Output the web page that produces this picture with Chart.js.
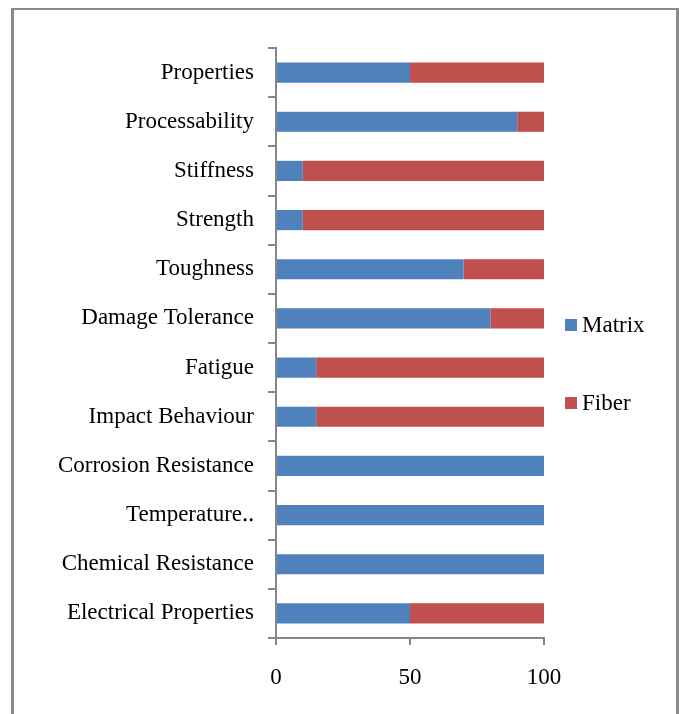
<!DOCTYPE html>
<html>
<head>
<meta charset="utf-8">
<script src="https://cdn.jsdelivr.net/npm/chart.js@4/dist/chart.umd.min.js"></script>
<style>
  html, body { margin: 0; padding: 0; background: #fff; }
  #wrap { position: relative; width: 679px; height: 714px; overflow: hidden; }
  #frame { position: absolute; left: 11px; top: 8px; width: 668px; height: 730px;
           border-style: solid; border-color: #8a8a8a; border-width: 2px 3px 3px 3px;
           box-sizing: border-box; }
  canvas { position: absolute; left: 0; top: 0; }
</style>
</head>
<body>
<div id="wrap">
  <div id="frame"></div>
  <canvas id="c" width="679" height="714"></canvas>
</div>
<script>
const categories = [
  "Properties", "Processability", "Stiffness", "Strength", "Toughness",
  "Damage Tolerance", "Fatigue", "Impact Behaviour", "Corrosion Resistance",
  "Temperature\u2025", "Chemical Resistance", "Electrical Properties"
];
const matrixValues = [50, 90, 10, 10, 70, 80, 15, 15, 100, 100, 100, 50];
const fiberValues  = [50, 10, 90, 90, 30, 20, 85, 85, 0, 0, 0, 50];
const xTicks = [0, 50, 100];

const FONT = "'Liberation Serif', 'Times New Roman', serif";
const AXIS = "#868686";

// Legend drawn to the right of the plot, one entry per dataset
const sideLegend = {
  id: "sideLegend",
  afterDraw(chart) {
    const ctx = chart.ctx;
    const rows = [325, 403];
    ctx.save();
    ctx.font = "23px " + FONT;
    ctx.textBaseline = "middle";
    chart.data.datasets.forEach((ds, i) => {
      const y = rows[i];
      ctx.fillStyle = ds.backgroundColor;
      ctx.fillRect(565, y - 6, 12, 12);
      ctx.fillStyle = "#000";
      ctx.fillText(ds.label, 582, y + 1);
    });
    ctx.restore();
  }
};

new Chart(document.getElementById("c"), {
  type: "bar",
  data: {
    labels: categories,
    datasets: [
      { label: "Matrix", data: matrixValues, backgroundColor: "#4F81BD" },
      { label: "Fiber",  data: fiberValues,  backgroundColor: "#C0504D" }
    ]
  },
  options: {
    indexAxis: "y",
    responsive: false,
    animation: false,
    devicePixelRatio: 1,
    layout: { padding: { left: 0, right: 135, top: 48, bottom: 0 } },
    datasets: { bar: { categoryPercentage: 1, barPercentage: 0.41 } },
    plugins: { legend: { display: false }, tooltip: { enabled: false } },
    scales: {
      x: {
        stacked: true,
        min: 0, max: 100,
        afterBuildTicks(scale) { scale.ticks = xTicks.map(v => ({ value: v })); },
        afterFit(scale) { scale.height = 76; },
        border: { color: AXIS, width: 2 },
        grid: { drawOnChartArea: false, drawTicks: true, tickLength: 7, color: AXIS, lineWidth: 2 },
        ticks: { color: "#000", font: { family: FONT, size: 23 }, padding: 19, maxRotation: 0 }
      },
      y: {
        stacked: true,
        afterFit(scale) { scale.width = 276; },
        border: { color: AXIS, width: 2 },
        grid: { drawOnChartArea: false, drawTicks: true, tickLength: 8, color: AXIS, lineWidth: 2, offset: true },
        ticks: { color: "#000", font: { family: FONT, size: 23 }, padding: 14, autoSkip: false }
      }
    }
  },
  plugins: [sideLegend]
});
</script>
</body>
</html>
